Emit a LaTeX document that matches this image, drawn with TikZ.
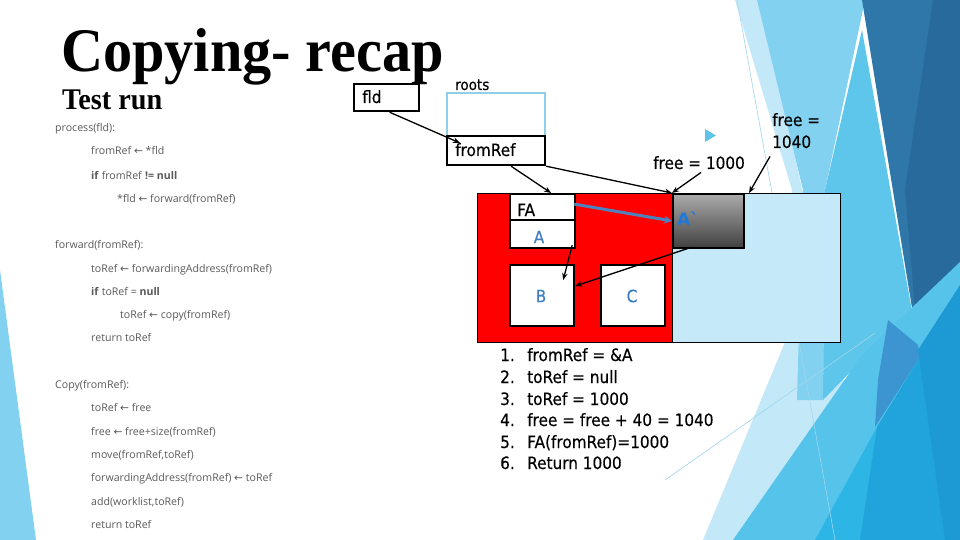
\documentclass[tikz,border=0pt]{standalone}
\usepackage{fontspec}
\usetikzlibrary{arrows.meta,calc}
\newfontfamily\titlefont[FakeStretch=0.94]{Liberation Serif}
\newfontfamily\codefont{Open Sans}
\newfontfamily\djv{DejaVu Sans}
\newfontfamily\tah[FakeStretch=0.9,FakeBold=0.4]{DejaVu Sans}
\newcommand\myla{{\djv ←}}
\definecolor{fpale}{HTML}{C3E8F8}
\definecolor{flight}{HTML}{82D1F0}
\definecolor{fmed}{HTML}{5EC6EA}
\definecolor{fdark}{HTML}{2F77A9}
\definecolor{fdarker}{HTML}{286A9C}
\definecolor{fcyanA}{HTML}{56C3EA}
\definecolor{fcyanB}{HTML}{2DB5E5}
\definecolor{fcyanC}{HTML}{21A4DC}
\definecolor{fmid}{HTML}{3C95D0}
\definecolor{fright}{HTML}{1D9AD3}
\definecolor{fline}{HTML}{9FD6EE}
\definecolor{codegray}{HTML}{5A5A5A}
\definecolor{tospacecol}{HTML}{C5E9F8}
\definecolor{rootsblue}{HTML}{8FD0E8}
\definecolor{letterblue}{HTML}{3F7FBF}
\definecolor{acopyblue}{HTML}{1E78D8}
\definecolor{fwdblue}{HTML}{4F81BD}
\definecolor{bulletblue}{HTML}{5FC3EA}
\begin{document}
\begin{tikzpicture}[x=1pt,y=-1pt,
  codeline/.style={anchor=base west, inner sep=0pt, text=codegray, font=\codefont\fontsize{10.6}{12}\selectfont},
  lbl/.style={anchor=base west, inner sep=0pt, font=\tah\fontsize{17}{20}\selectfont},
  smalllbl/.style={anchor=base west, inner sep=0pt, font=\tah\fontsize{15}{18}\selectfont},
  letter/.style={inner sep=0pt, text=letterblue, font=\tah\fontsize{17}{20}\selectfont},
  objbox/.style={draw=black, line width=2.2pt, fill=white, anchor=north west, inner sep=0pt},
  region/.style={draw=black, line width=0.8pt, anchor=north west, inner sep=0pt},
  arr/.style={draw=black, line width=1.3pt, -{Stealth[length=7pt,width=5.5pt]}}]
\useasboundingbox (0,0) rectangle (960,540);
\fill[white] (0,0) rectangle (960,540);
% ---- background facets ----
\fill[flight] (0,270) -- (36,540) -- (0,540) -- cycle;
\fill[fpale] (735,0) -- (760,0) -- (880,540) -- (703,540) -- (790,330) -- (792,190) -- cycle;
\fill[flight] (757,0) -- (865,0) -- (825,190) -- (823,400) -- (797,400) -- (803,190) -- cycle;
\fill[fmed] (862,30) -- (918,345) -- (862,360) -- (823,400) -- (825,190) -- cycle;
\fill[fdark] (862,0) -- (960,0) -- (960,262) -- (918,345) -- cycle;
\fill[fdarker] (933,0) -- (960,0) -- (960,262) -- (918,345) -- (905,190) -- cycle;
\fill[fcyanA] (733,540) -- (862,355) -- (960,262) -- (960,540) -- cycle;
\fill[fmid] (888,320) -- (918,345) -- (920,357) -- (875,427) -- (878,380) -- cycle;
\fill[fcyanB] (815,540) -- (877,427) -- (920,357) -- (960,300) -- (960,540) -- cycle;
\fill[fcyanC] (860,540) -- (877,427) -- (920,357) -- (960,330) -- (960,540) -- cycle;
\fill[fright] (918,350) -- (960,285) -- (960,540) -- (945,540) -- cycle;
\draw[fline, line width=0.6pt] (737,0) -- (835,540);
\draw[fline, line width=0.6pt] (665,480) -- (875,333);
% ---- title ----
\node[anchor=base west, inner sep=0pt, font=\titlefont\bfseries\fontsize{62}{62}\selectfont] (title) at (61,72) {Copying- recap};
\node[anchor=base west, inner sep=0pt, font=\titlefont\bfseries\fontsize{30}{32}\selectfont] (subtitle) at (62,110) {Test run};
% ---- pseudocode ----
\node[codeline] (c1) at (55,132) {process(fld):};
\node[codeline] (c2) at (91,155) {fromRef \myla\ *fld};
\node[codeline] (c3) at (91,179) {\textbf{if} fromRef \textbf{!= null}};
\node[codeline] (c4) at (117,202) {*fld \myla\ forward(fromRef)};
\node[codeline] (c5) at (55,248) {forward(fromRef):};
\node[codeline] (c6) at (91,272) {toRef \myla\ forwardingAddress(fromRef)};
\node[codeline] (c7) at (91,295) {\textbf{if} toRef = \textbf{null}};
\node[codeline] (c8) at (120,318) {toRef \myla\ copy(fromRef)};
\node[codeline] (c9) at (91,341) {return toRef};
\node[codeline] (c10) at (55,388) {Copy(fromRef):};
\node[codeline] (c11) at (91,411) {toRef \myla\ free};
\node[codeline] (c12) at (91,435) {free \myla\ free+size(fromRef)};
\node[codeline] (c13) at (91,458) {move(fromRef,toRef)};
\node[codeline] (c14) at (91,481) {forwardingAddress(fromRef) \myla\ toRef};
\node[codeline] (c15) at (91,505) {add(worklist,toRef)};
\node[codeline] (c16) at (91,528) {return toRef};
% ---- roots / fld ----
\node[objbox, minimum width=65pt, minimum height=27pt] (fld) at (353,83) {};
\node[lbl] (fldt) at (362,103) {fld};
\node[smalllbl] (rootst) at (455,90) {roots};
\node[draw=rootsblue, line width=2pt, fill=white, anchor=north west, inner sep=0pt, minimum width=98pt, minimum height=43pt] (roots) at (446,92) {};
\node[objbox, minimum width=98pt, minimum height=29pt] (fromref) at (446,135) {};
\node[lbl] (fromreft) at (455,156) {fromRef};
% ---- heap ----
\node[region, fill=red, minimum width=195pt, minimum height=149pt] (fromspace) at (477,193) {};
\node[region, fill=tospacecol, minimum width=168pt, minimum height=149pt] (tospace) at (672,193) {};
\node[draw=black, line width=2.2pt, top color=black!33, bottom color=black!75, anchor=north west, inner sep=0pt, minimum width=71pt, minimum height=54pt] (acopy) at (672,193) {};
\node[inner sep=0pt, text=acopyblue, font=\djv\bfseries\fontsize{17}{20}\selectfont] (acopyt) at (688,219) {Aˋ};
\node[objbox, minimum width=65pt, minimum height=26pt] (fa) at (509,193) {};
\node[objbox, minimum width=65pt, minimum height=28pt] (a) at (509,219) {};
\node[lbl] (fat) at (517,216) {FA};
\node[letter] (at) at (539,237) {A};
\node[objbox, minimum width=64pt, minimum height=61pt] (b) at (509,264) {};
\node[letter] (bt) at (541,296) {B};
\node[objbox, minimum width=64pt, minimum height=61pt] (c) at (600,264) {};
\node[letter] (ct) at (632,296) {C};
% ---- free labels ----
\node[lbl] (free1000) at (653,169) {free = 1000};
\node[lbl] (freeA) at (772,126) {free =};
\node[lbl] (freeB) at (772,148) {1040};
\fill[bulletblue] (705,129) -- (716,135.5) -- (705,142) -- cycle;
\coordinate (freeend) at (749,193);
% ---- connectors ----
\draw[arr] ([xshift=3pt]fld.south) -- ([xshift=14pt,yshift=-8pt]fromref.north west);
\draw[arr] ([xshift=15pt]fromref.south) -- ([xshift=8.5pt]fa.north);
\draw[arr] (fromref.south east) -- (acopy.north west);
\draw[arr] ([xshift=2pt,yshift=-3pt]free1000.south) -- (acopy.north west);
\draw[arr] ([xshift=-2pt,yshift=-8pt]freeB.south west) -- (freeend);
\draw[fwdblue, line width=3pt, -{Stealth[length=8pt,width=8pt]}] ([xshift=-2pt,yshift=3pt]fa.east) -- ([yshift=-28pt]acopy.north west);
\draw[arr] ([xshift=-4pt,yshift=4pt]a.south east) -- ([xshift=-12pt,yshift=-16pt]b.north east);
\draw[arr] ([xshift=-17pt,yshift=2pt]acopy.south) -- ([yshift=-22pt]b.north east);
% ---- list ----
\node[lbl] (n1) at (500,361) {1.};
\node[lbl] (l1) at (527,361) {fromRef = \&A};
\node[lbl] (n2) at (500,383) {2.};
\node[lbl] (l2) at (527,383) {toRef = null};
\node[lbl] (n3) at (500,405) {3.};
\node[lbl] (l3) at (527,405) {toRef = 1000};
\node[lbl] (n4) at (500,426) {4.};
\node[lbl] (l4) at (527,426) {free = free + 40 = 1040};
\node[lbl] (n5) at (500,448) {5.};
\node[lbl] (l5) at (527,448) {FA(fromRef)=1000};
\node[lbl] (n6) at (500,469) {6.};
\node[lbl] (l6) at (527,469) {Return 1000};
\end{tikzpicture}
\end{document}
